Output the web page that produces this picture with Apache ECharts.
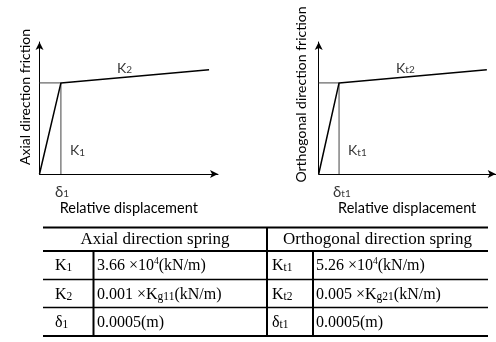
<!DOCTYPE html>
<html><head><meta charset="utf-8">
<script src="https://cdn.jsdelivr.net/npm/echarts@6/dist/echarts.min.js"></script>
<style>html,body{margin:0;padding:0;background:#fff}#c{width:496px;height:342px}</style>
</head><body><div id="c"></div>
<script>
// Friction-displacement diagrams (abstract units: 0-100 on both axes)
const axialDisp = [0, 12, 95];
const axialForce = [0, 69, 79];
const orthDisp = [0, 11.5, 95];
const orthForce = [0, 69, 79];
// Annotation texts and their anchor points (data units)
const axialLabels = [['K', '2'], ['K', '1'], ['δ', '1']];
const orthLabels = [['K', 't2'], ['K', 't1'], ['δ', 't1']];
const axialLabelAt = [[43.4, 81], [17.1, 18.2], [8.7, -13]];
const orthLabelAt = [[43.7, 81], [16.6, 18.2], [8.1, -13]];
const yTitles = ['Axial direction friction', 'Orthogonal direction friction'];
const xTitle = 'Relative displacement';
// Table
const tableHeaders = ['Axial direction spring', 'Orthogonal direction spring'];
const axialSym = [['K', '1'], ['K', '2'], ['δ', '1']];
const orthSym = [['K', 't1'], ['K', 't2'], ['δ', 't1']];
const axialVal = ['3.66 ×10{sup|4}(kN/m)', '0.001 ×K{sub|g11}(kN/m)', '0.0005(m)'];
const orthVal = ['5.26 ×10{sup|4}(kN/m)', '0.005 ×K{sub|g21}(kN/m)', '0.0005(m)'];

const SANS = 'Lato';
const SERIF = 'Liberation Serif';

const chart = echarts.init(document.getElementById('c'), null, {renderer: 'canvas'});

const grids = [
  {left: 39.5, top: 42, width: 178.5, height: 132},
  {left: 318.7, top: 42, width: 177, height: 132}
];

function axisCommon(name, isX) {
  return {
    type: 'value', min: 0, max: 100,
    axisLine: {show: true, symbol: ['none', 'arrow'], symbolSize: [6, 8], lineStyle: {color: '#000', width: 1}},
    axisTick: {show: false}, axisLabel: {show: false}, splitLine: {show: false},
    name: isX ? name : '', nameLocation: 'middle', nameGap: 27,
    nameTextStyle: {fontFamily: SANS, fontSize: 14.5, color: '#000'}
  };
}

const labelRich = {
  m: {fontFamily: SANS, fontSize: 14, color: '#000', verticalAlign: 'bottom', lineHeight: 16},
  d: {fontFamily: SANS, fontSize: 15, color: '#000', verticalAlign: 'bottom', lineHeight: 16},
  s: {fontFamily: SANS, fontSize: 10, color: '#000', verticalAlign: 'bottom', lineHeight: 14}
};

function diagramSeries(idx, disp, force, labels, labelAt) {
  return [
    {type: 'line', xAxisIndex: idx, yAxisIndex: idx, symbol: 'none', silent: true,
      data: [[0, force[1]], [disp[1], force[1]], [disp[1], 0]],
      lineStyle: {color: '#444', width: 1}},
    {type: 'line', xAxisIndex: idx, yAxisIndex: idx, symbol: 'none', silent: true,
      data: disp.map((d, i) => [d, force[i]]),
      lineStyle: {color: '#000', width: 1.5}},
    {type: 'scatter', xAxisIndex: idx, yAxisIndex: idx, clip: false, symbolSize: 0, silent: true,
      data: labelAt.map((p, i) => ({
        value: p,
        label: {formatter: '{' + (labels[i][0] === 'δ' ? 'd' : 'm') + '|' + labels[i][0] + '}{s|' + labels[i][1] + '}'}
      })),
      label: {show: true, position: 'right', distance: 0, rich: labelRich}}
  ];
}

// ---- table graphics
const T = {L: 43, R: 488, mid: 267, c1: 93.5, c3: 313, rows: [227.5, 251, 279.5, 307.5, 336]};
const g = [];
function hline(y, w) { g.push({type: 'line', shape: {x1: T.L, y1: y, x2: T.R, y2: y}, style: {stroke: '#000', lineWidth: w}}); }
function vline(x, y1, y2, w) { g.push({type: 'line', shape: {x1: x, y1: y1, x2: x, y2: y2}, style: {stroke: '#000', lineWidth: w}}); }
hline(T.rows[0], 2); hline(T.rows[1], 1.8); hline(T.rows[2], 1.6); hline(T.rows[3], 1.6); hline(T.rows[4], 2);
vline(T.mid, T.rows[0], T.rows[4], 2);
vline(T.c1, T.rows[1], T.rows[4], 2);
vline(T.c3, T.rows[1], T.rows[4], 2);

const cellRich = {
  n: {fontFamily: SERIF, fontSize: 16, color: '#000', verticalAlign: 'bottom', lineHeight: 18},
  sub: {fontFamily: SERIF, fontSize: 11.5, color: '#000', verticalAlign: 'bottom', lineHeight: 17},
  sup: {fontFamily: SERIF, fontSize: 9.5, color: '#000', verticalAlign: 'top', lineHeight: 18}
};
function wrap(s) {
  return '{n|' + s.replace(/\{(\w+)\|([^}]*)\}/g, '}{$1|$2}{n|') + '}';
}
function cell(x, y, text, align) {
  g.push({type: 'text', x: x, y: y, style: {text: text, rich: cellRich, align: align || 'left', verticalAlign: 'middle'}});
}
const headerX = [(T.L + T.mid) / 2, (T.mid + T.R) / 2];
tableHeaders.forEach((h, i) => {
  g.push({type: 'text', x: headerX[i], y: (T.rows[0] + T.rows[1]) / 2,
    style: {text: h, fontFamily: SERIF, fontSize: 17, fill: '#000', align: 'center', verticalAlign: 'middle'}});
});
for (let r = 0; r < 3; r++) {
  const y = (T.rows[r + 1] + T.rows[r + 2]) / 2;
  cell(55, y, '{n|' + axialSym[r][0] + '}{sub|' + axialSym[r][1] + '}');
  cell(97, y, wrap(axialVal[r]));
  cell(272, y, '{n|' + orthSym[r][0] + '}{sub|' + orthSym[r][1] + '}');
  cell(316, y, wrap(orthVal[r]));
}

// rotated y-axis titles
const yTitlePos = [[25, 97], [301, 94.5]];
yTitles.forEach((t, i) => {
  g.push({type: 'text', x: yTitlePos[i][0], y: yTitlePos[i][1], rotation: Math.PI / 2,
    style: {text: t, fontFamily: SANS, fontSize: 14, fill: '#000', align: 'center', verticalAlign: 'middle'}});
});

chart.setOption({
  animation: false,
  backgroundColor: '#fff',
  grid: grids,
  xAxis: [Object.assign(axisCommon(xTitle, true), {gridIndex: 0}), Object.assign(axisCommon(xTitle, true), {gridIndex: 1})],
  yAxis: [Object.assign(axisCommon('', false), {gridIndex: 0}), Object.assign(axisCommon('', false), {gridIndex: 1})],
  series: [].concat(
    diagramSeries(0, axialDisp, axialForce, axialLabels, axialLabelAt),
    diagramSeries(1, orthDisp, orthForce, orthLabels, orthLabelAt)
  ),
  graphic: g
});
</script></body></html>
